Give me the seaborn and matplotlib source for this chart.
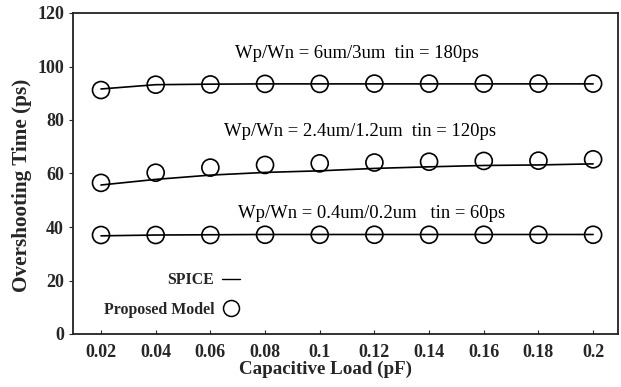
import numpy as np
import pandas as pd
import matplotlib
matplotlib.use("Agg")
import matplotlib.pyplot as plt
import seaborn as sns
from matplotlib.lines import Line2D

load = [0.02, 0.04, 0.06, 0.08, 0.10, 0.12, 0.14, 0.16, 0.18, 0.20]

spice_big = [91.6, 93.2, 93.4, 93.5, 93.5, 93.5, 93.5, 93.5, 93.5, 93.5]
model_big = [91.2, 93.2, 93.3, 93.5, 93.5, 93.6, 93.6, 93.6, 93.6, 93.6]

spice_mid = [55.7, 57.8, 59.4, 60.4, 61.0, 61.9, 62.5, 63.0, 63.2, 63.6]
model_mid = [56.5, 60.3, 62.2, 63.2, 63.8, 64.1, 64.4, 64.7, 64.8, 65.3]

spice_small = [36.7, 37.0, 37.1, 37.2, 37.2, 37.2, 37.2, 37.2, 37.2, 37.2]
model_small = [37.0, 37.0, 37.0, 37.1, 37.1, 37.1, 37.1, 37.1, 37.1, 37.1]

labels = ["Wp/Wn = 6um/3um  tin = 180ps",
          "Wp/Wn = 2.4um/1.2um  tin = 120ps",
          "Wp/Wn = 0.4um/0.2um   tin = 60ps"]
label_pos = [(0.1136, 105.0), (0.1147, 75.6), (0.1189, 45.2)]

xticks = [0.02, 0.04, 0.06, 0.08, 0.1, 0.12, 0.14, 0.16, 0.18, 0.2]
xticklabels = ["0.02", "0.04", "0.06", "0.08", "0.1", "0.12", "0.14", "0.16", "0.18", "0.2"]
yticks = [0, 20, 40, 60, 80, 100, 120]

sns.set_style("ticks")
plt.rcParams['font.family'] = ['Liberation Serif', 'DejaVu Serif']

rows = []
for name, s, m in [("big", spice_big, model_big), ("mid", spice_mid, model_mid),
                   ("small", spice_small, model_small)]:
    for x, a, b in zip(load, s, m):
        rows.append({"load": x, "group": name, "spice": a, "model": b})
df = pd.DataFrame(rows)

fig = plt.figure(figsize=(6.21, 3.87), dpi=100)
ax = fig.add_axes([73/621, 53/387, 545/621, 321/387])

sns.lineplot(data=df, x="load", y="spice", units="group", estimator=None,
             color="black", linewidth=1.2, ax=ax, legend=False)
sns.scatterplot(data=df, x="load", y="model", marker="o", s=150,
                facecolor="none", edgecolor="black", linewidth=1.2, ax=ax,
                legend=False, zorder=3)

for t, (x, y) in zip(labels, label_pos):
    ax.text(x, y, t, ha="center", va="center", fontsize=13.4, color="black")

ax.set_xlim(0.00976, 0.2091)
ax.set_ylim(0, 120)
ax.set_xticks(xticks)
ax.set_xticklabels(xticklabels)
ax.set_yticks(yticks)
ax.tick_params(axis="x", direction="in", length=3, pad=7, labelsize=13)
ax.tick_params(axis="y", direction="out", length=3, labelsize=13)
for lab in ax.get_xticklabels() + ax.get_yticklabels():
    lab.set_fontweight("bold")
for sp in ax.spines.values():
    sp.set_visible(True)
    sp.set_linewidth(1.3)
    sp.set_color("#222222")

ax.set_xlabel("Capacitive Load (pF)", fontsize=13.7, fontweight="bold",
              labelpad=0, x=0.464, ha="center")
ax.set_ylabel("Overshooting Time (ps)", fontsize=15.3, fontweight="bold",
              labelpad=4, y=0.464, ha="center")

handles = [Line2D([0], [0], color="black", linewidth=1.0),
           Line2D([0], [0], color="black", marker="o", markersize=11.5,
                  markerfacecolor="none", linestyle="none", markeredgewidth=1.1)]
leg = ax.legend(handles, ["SPICE", "Proposed Model"], markerfirst=False,
                frameon=False, loc="lower left", bbox_to_anchor=(0.03, 0.006),
                prop={"family": "Liberation Serif", "weight": "bold", "size": 11.4},
                handlelength=1.15, labelspacing=0.85, handletextpad=0.5)
for t in leg.get_texts():
    t.set_ha("right")

fig.savefig("out.png", dpi=100)
